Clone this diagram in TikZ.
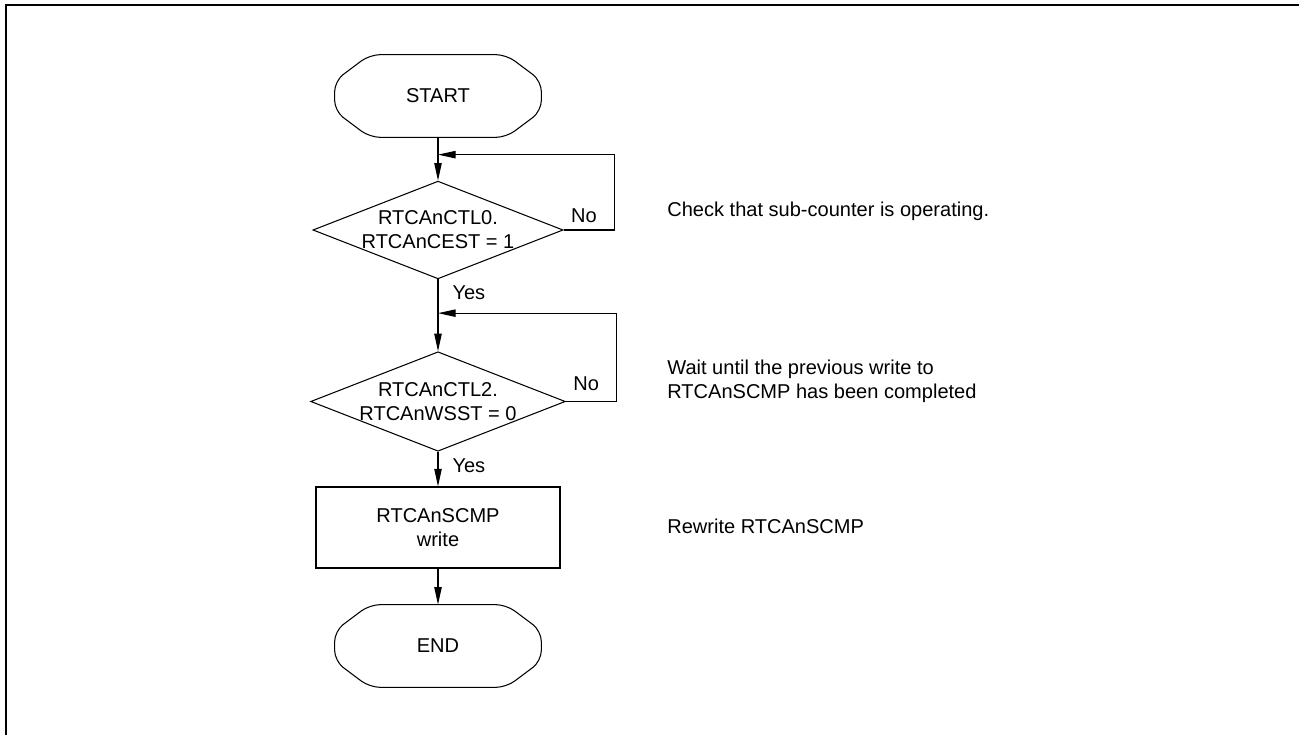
\documentclass[tikz,border=0pt]{standalone}
\usepackage{fontspec}
\setmainfont{Liberation Sans}
\usetikzlibrary{arrows.meta, positioning, calc, shapes.geometric}

% outline of a start/end terminal round a named node
\newcommand{\drawterm}[1]{%
  \draw[line width=0.6pt, rounded corners=6pt]
    (#1.north) -- ($(#1.north east)+(-0.7,0)$)
    -- ($(#1.east)+(0,0.3)$) -- ($(#1.east)+(0,-0.3)$)
    -- ($(#1.south east)+(-0.7,0)$) -- ($(#1.south west)+(0.7,0)$)
    -- ($(#1.west)+(0,-0.3)$) -- ($(#1.west)+(0,0.3)$)
    -- ($(#1.north west)+(0.7,0)$) -- cycle;}

\begin{document}
\begin{tikzpicture}[
    node_term/.style={rectangle, minimum width=4.12cm, minimum height=1.64cm},
    node_dec/.style={diamond, draw, line width=0.6pt, aspect=2.56, inner sep=0pt, align=center, minimum width=4.92cm, minimum height=1.92cm},
    node_proc/.style={rectangle, draw, line width=0.6pt, align=center, minimum width=4.88cm, minimum height=1.62cm},
    node_note/.style={align=left, inner sep=0pt},
    edge_path/.style={-{Triangle[length=10pt, width=4.2pt]}, line width=0.6pt},
    label_no/.style={above, inner sep=0pt, yshift=4pt, pos=0.4},
    label_yes/.style={anchor=north west, inner sep=0pt, xshift=0.28cm, yshift=-0.12cm},
    font=\fontsize{11.4}{13.6}\selectfont,
    node distance=2.68cm, on grid
  ]
    \useasboundingbox (0,0) rectangle (25.98,-14.7);
    \draw[line width=1.2pt] (0.12,-14.7) -- (0.12,-0.1) -- (25.98,-0.1);

    \node[node_term] (start) at (8.76,-1.92) {START};
    \node[node_dec, below=2.68cm of start] (cest) {RTCAnCTL0.\\RTCAnCEST = 1};
    \node[node_dec, below=3.43cm of cest] (wsst) {RTCAnCTL2.\\RTCAnWSST = 0};
    \node[node_proc, below=2.52cm of wsst] (scmp) {RTCAnSCMP\\write};
    \node[node_term, below=2.37cm of scmp] (stop) {END};
    \drawterm{start}
    \drawterm{stop}

    \coordinate (loop1) at ($(start.south)!0.4!(cest.north)$);
    \coordinate (loop2) at ($(cest.south)!0.47!(wsst.north)$);

    \draw[edge_path] (start) -- (cest);
    \draw[edge_path] (cest.east) -- node[label_no] {No} ++(1.02,0) |- (loop1);
    \draw[edge_path] (cest) -- node[label_yes, pos=0] {Yes} (wsst);
    \draw[edge_path] (wsst.east) -- node[label_no, yshift=2pt] {No} ++(1.02,0) |- (loop2);
    \draw[edge_path] (wsst) -- node[label_yes, pos=0] {Yes} (scmp);
    \draw[edge_path] (scmp) -- (stop);

    \node[node_note, anchor=base west] (note_cest) at (13.34,-4.34) {Check that sub-counter is operating.};
    \node[node_note, anchor=west] (note_wsst) at (13.34,-7.62) {Wait until the previous write to\\RTCAnSCMP has been completed};
    \node[node_note, anchor=base west] (note_scmp) at (13.34,-10.66) {Rewrite RTCAnSCMP};
  \end{tikzpicture}
\end{document}
